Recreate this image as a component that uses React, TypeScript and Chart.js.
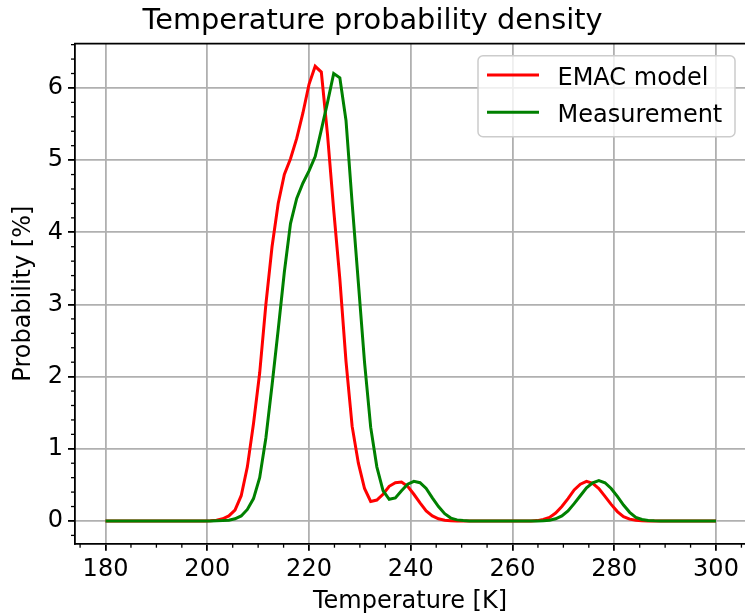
import React, { useEffect, useRef } from "react";
import { Chart, registerables } from "chart.js";

Chart.register(...registerables);

const temperatures = [
  180.0, 181.21, 182.42, 183.64, 184.85, 186.06, 187.27, 188.48, 189.7, 190.91,
  192.12, 193.33, 194.55, 195.76, 196.97, 198.18, 199.39, 200.61, 201.82, 203.03,
  204.24, 205.45, 206.67, 207.88, 209.09, 210.3, 211.52, 212.73, 213.94, 215.15,
  216.36, 217.58, 218.79, 220.0, 221.21, 222.42, 223.64, 224.85, 226.06, 227.27,
  228.48, 229.7, 230.91, 232.12, 233.33, 234.55, 235.76, 236.97, 238.18, 239.39,
  240.61, 241.82, 243.03, 244.24, 245.45, 246.67, 247.88, 249.09, 250.3, 251.52,
  252.73, 253.94, 255.15, 256.36, 257.58, 258.79, 260.0, 261.21, 262.42, 263.64,
  264.85, 266.06, 267.27, 268.48, 269.7, 270.91, 272.12, 273.33, 274.55, 275.76,
  276.97, 278.18, 279.39, 280.61, 281.82, 283.03, 284.24, 285.45, 286.67, 287.88,
  289.09, 290.3, 291.52, 292.73, 293.94, 295.15, 296.36, 297.58, 298.79, 300.0,
];

const emacModel = [
  0, 0, 0, 0, 0, 0, 0, 0, 0, 0,
  0, 0, 0, 0, 0, 0, 0, 0.002, 0.01, 0.03,
  0.07, 0.15, 0.35, 0.75, 1.35, 2.05, 3.0, 3.8, 4.4, 4.8,
  5.02, 5.3, 5.65, 6.05, 6.3, 6.22, 5.35, 4.31, 3.35, 2.21,
  1.31, 0.8, 0.45, 0.27, 0.29, 0.37, 0.48, 0.53, 0.54, 0.48,
  0.37, 0.25, 0.14, 0.07, 0.03, 0.01, 0.003, 0, 0, 0,
  0, 0, 0, 0, 0, 0, 0, 0, 0, 0,
  0.005, 0.02, 0.05, 0.11, 0.2, 0.31, 0.43, 0.51, 0.55, 0.52,
  0.45, 0.34, 0.23, 0.13, 0.06, 0.025, 0.01, 0.003, 0, 0,
  0, 0, 0, 0, 0, 0, 0, 0, 0, 0,
];

const measurement = [
  0, 0, 0, 0, 0, 0, 0, 0, 0, 0,
  0, 0, 0, 0, 0, 0, 0, 0, 0.002, 0.005,
  0.01, 0.03, 0.07, 0.16, 0.31, 0.6, 1.15, 1.88, 2.65, 3.45,
  4.12, 4.47, 4.68, 4.85, 5.05, 5.42, 5.8, 6.2, 6.14, 5.55,
  4.4, 3.3, 2.2, 1.3, 0.75, 0.42, 0.3, 0.32, 0.42, 0.51,
  0.55, 0.53, 0.45, 0.32, 0.2, 0.1, 0.04, 0.015, 0.005, 0,
  0, 0, 0, 0, 0, 0, 0, 0, 0, 0,
  0, 0.003, 0.01, 0.03, 0.07, 0.14, 0.24, 0.35, 0.46, 0.53,
  0.56, 0.53, 0.45, 0.34, 0.22, 0.12, 0.05, 0.02, 0.007, 0.002,
  0, 0, 0, 0, 0, 0, 0, 0, 0, 0,
];

const xTicks = [180, 200, 220, 240, 260, 280, 300];
const yTicks = [0, 1, 2, 3, 4, 5, 6];
const xMinorStep = 5;
const yMinorStep = 0.2;
const seriesLabels = ["EMAC model", "Measurement"];
const seriesColors = ["#ff0000", "#008000"];
const titleText = "Temperature probability density";
const xLabel = "Temperature [K]";
const yLabel = "Probability [%]";

const FONT = "'DejaVu Sans', sans-serif";

const decorPlugin = {
  id: "decor",
  afterDraw(chart: any) {
    const { ctx, chartArea: ca, scales } = chart;
    const xs = scales.x;
    const ys = scales.y;
    ctx.save();
    // top spine
    ctx.strokeStyle = "#000";
    ctx.lineWidth = 1.8;
    ctx.beginPath();
    ctx.moveTo(ca.left - 0.9, ca.top);
    ctx.lineTo(ca.right + 2, ca.top);
    ctx.stroke();
    // minor ticks
    ctx.lineWidth = 1.3;
    const xStart = Math.ceil(xs.min / xMinorStep) * xMinorStep;
    for (let v = xStart; v <= xs.max + 1e-9; v += xMinorStep) {
      if (xTicks.includes(v)) continue;
      const px = xs.getPixelForValue(v);
      ctx.beginPath();
      ctx.moveTo(px, ca.bottom);
      ctx.lineTo(px, ca.bottom + 4);
      ctx.stroke();
    }
    const kStart = Math.ceil(ys.min / yMinorStep - 1e-9);
    const kEnd = Math.floor(ys.max / yMinorStep + 1e-9);
    for (let k = kStart; k <= kEnd; k++) {
      if (k % 5 === 0) continue;
      const py = ys.getPixelForValue(k * yMinorStep);
      ctx.beginPath();
      ctx.moveTo(ca.left, py);
      ctx.lineTo(ca.left - 4, py);
      ctx.stroke();
    }
    // legend
    const bx = ca.right - 267;
    const by = ca.top + 12.2;
    const bw = 257;
    const bh = 81;
    ctx.beginPath();
    ctx.roundRect(bx, by, bw, bh, 5);
    ctx.fillStyle = "rgba(255,255,255,0.8)";
    ctx.fill();
    ctx.strokeStyle = "#cccccc";
    ctx.lineWidth = 1.5;
    ctx.stroke();
    ctx.font = `24px ${FONT}`;
    ctx.textAlign = "left";
    ctx.textBaseline = "alphabetic";
    chart.data.datasets.forEach((ds: any, i: number) => {
      const ly = by + 19.3 + i * 37.3;
      ctx.strokeStyle = ds.borderColor;
      ctx.lineWidth = 3;
      ctx.beginPath();
      ctx.moveTo(bx + 9, ly);
      ctx.lineTo(bx + 61, ly);
      ctx.stroke();
      ctx.fillStyle = "#000";
      ctx.fillText(ds.label, bx + 79.5, ly + 9.5);
    });
    ctx.restore();
  },
};

export default function App() {
  const ref = useRef<HTMLCanvasElement | null>(null);

  useEffect(() => {
    document.body.style.margin = "0";
    const canvas = ref.current;
    if (!canvas) return;
    const series = [emacModel, measurement];
    const chart = new Chart(canvas, {
      type: "line",
      data: {
        datasets: series.map((vals, i) => ({
          label: seriesLabels[i],
          data: temperatures.map((t, j) => ({ x: t, y: vals[j] })),
          borderColor: seriesColors[i],
          backgroundColor: seriesColors[i],
          borderWidth: 3,
          pointRadius: 0,
          tension: 0,
          fill: false,
          order: i === 0 ? 1 : 0,
        })),
      },
      options: {
        animation: false,
        responsive: false,
        devicePixelRatio: 1,
        layout: { padding: { left: 0, right: 0, top: 0, bottom: 0 } },
        plugins: {
          legend: { display: false },
          tooltip: { enabled: false },
          title: {
            display: true,
            text: titleText,
            color: "#000",
            font: { family: FONT, size: 28.8, weight: "normal", lineHeight: 1.2 },
            padding: { top: 3.8, bottom: 5.2 },
          },
        },
        scales: {
          x: {
            type: "linear",
            min: 174,
            max: 305.7,
            afterFit: (s: any) => {
              s.height = 71.3;
            },
            afterBuildTicks: (s: any) => {
              s.ticks = xTicks.map((v) => ({ value: v }));
            },
            grid: {
              color: "#b0b0b0",
              lineWidth: 1.8,
              tickColor: "#000",
              tickLength: 7,
              tickWidth: 1.8,
            },
            border: { color: "#000", width: 1.8 },
            ticks: {
              color: "#000",
              font: { family: FONT, size: 24 },
              padding: 4.5,
              maxRotation: 0,
              autoSkip: false,
              callback: (v: any) => String(v),
            },
            title: {
              display: true,
              text: xLabel,
              color: "#000",
              font: { family: FONT, size: 24 },
              padding: { top: 0, bottom: -1 },
            },
          },
          y: {
            type: "linear",
            min: -0.315,
            max: 6.615,
            afterFit: (s: any) => {
              s.width = 75;
            },
            afterBuildTicks: (s: any) => {
              s.ticks = yTicks.map((v) => ({ value: v }));
            },
            grid: {
              color: "#b0b0b0",
              lineWidth: 1.8,
              tickColor: "#000",
              tickLength: 7,
              tickWidth: 1.8,
            },
            border: { color: "#000", width: 1.8 },
            ticks: {
              color: "#000",
              font: { family: FONT, size: 24 },
              padding: 5,
              autoSkip: false,
              callback: (v: any) => String(v),
            },
            title: {
              display: true,
              text: yLabel,
              color: "#000",
              font: { family: FONT, size: 24 },
              padding: { top: 8.9, bottom: 0 },
            },
          },
        },
      },
      plugins: [decorPlugin],
    });
    return () => chart.destroy();
  }, []);

  return (
    <div style={{ width: 745, height: 615, background: "#fff" }}>
      <canvas ref={ref} width={745} height={615} style={{ display: "block" }} />
    </div>
  );
}
